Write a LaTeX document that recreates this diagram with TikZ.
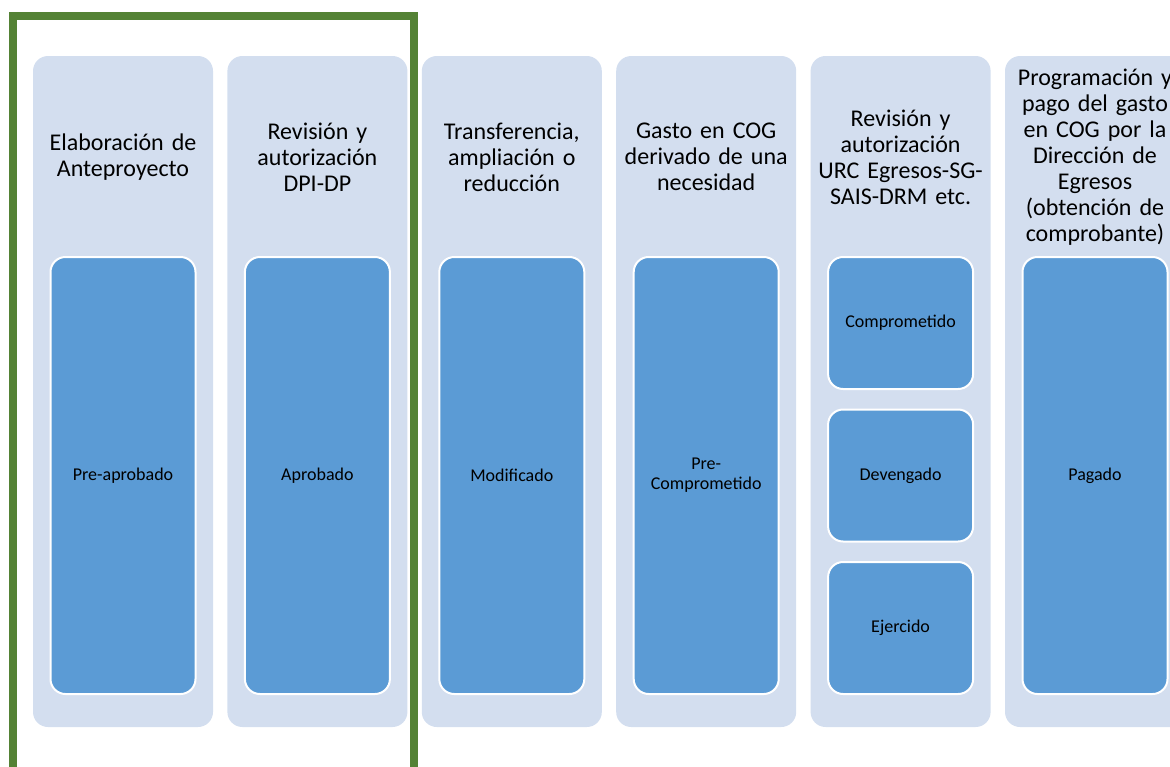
\documentclass[tikz,border=0pt]{standalone}
\usepackage{fontspec}
\setmainfont{Carlito}
\usepackage{tikz}
\usetikzlibrary{positioning}

\definecolor{colbg}{RGB}{211,222,239}
\definecolor{stageblue}{RGB}{91,155,213}
\definecolor{framegreen}{RGB}{84,130,53}

\begin{document}
\begin{tikzpicture}[
  x=1pt, y=-1pt,
  column/.style={rectangle, fill=colbg, draw=none, rounded corners=15pt,
    minimum width=180pt, minimum height=671pt, inner sep=0pt},
  stage/.style={rectangle, fill=stageblue, draw=white, line width=2pt,
    rounded corners=15pt, minimum width=145pt, minimum height=437pt,
    inner sep=2pt, text width=135pt, align=center,
    font=\fontsize{18}{20}\selectfont},
  substage/.style={stage, minimum height=132pt},
  head/.style={text width=172pt, align=center, inner sep=0pt,
    font=\fontsize{24}{26}\selectfont}
]
\useasboundingbox (0,0) rectangle (1170,766);

% columnas de fondo
\node[column] (c1) at (123,391.5) {};
\node[column, right=14pt of c1] (c2) {};
\node[column, right=14pt of c2] (c3) {};
\node[column, right=14pt of c3] (c4) {};
\node[column, right=14pt of c4] (c5) {};
\node[column, right=14pt of c5] (c6) {};

% titulos
\node[head] (h1) at (c1 |- 0,157) {Elaboración de\\Anteproyecto};
\node[head] (h2) at (c2 |- 0,157) {Revisión y\\autorización\\DPI-DP};
\node[head] (h3) at (c3 |- 0,157) {Transferencia,\\ampliación o\\reducción};
\node[head] (h4) at (c4 |- 0,157) {Gasto en COG\\derivado de una\\necesidad};
\node[head] (h5) at (c5 |- 0,157) {Revisión y\\autorización\\URC Egresos-SG-\\SAIS-DRM etc.};
\node[head] (h6) at (c6 |- 0,157) {Programación y\\pago del gasto\\en COG por la\\Dirección de\\Egresos\\(obtención de\\comprobante)};

% momentos contables
\node[stage] (s1) at (c1 |- 0,475.5) {Pre-aprobado};
\node[stage] (s2) at (c2 |- 0,475.5) {Aprobado};
\node[stage] (s3) at (c3 |- 0,475.5) {Modificado};
\node[stage] (s4) at (c4 |- 0,475.5) {Pre-\\Comprometido};
\node[substage] (s5a) at (c5 |- 0,323) {Comprometido};
\node[substage, below=18.5pt of s5a] (s5b) {Devengado};
\node[substage, below=18.5pt of s5b] (s5c) {Ejercido};
\node[stage] (s6) at (c6 |- 0,475.5) {Pagado};

% marco verde
\coordinate (g1) at (12.5,770);
\coordinate (g2) at (12.5,16);
\coordinate (g3) at (413.5,16);
\coordinate (g4) at (413.5,770);
\draw[framegreen, line width=8pt] (g1) -- (g2) -- (g3) -- (g4);
\end{tikzpicture}
\end{document}
